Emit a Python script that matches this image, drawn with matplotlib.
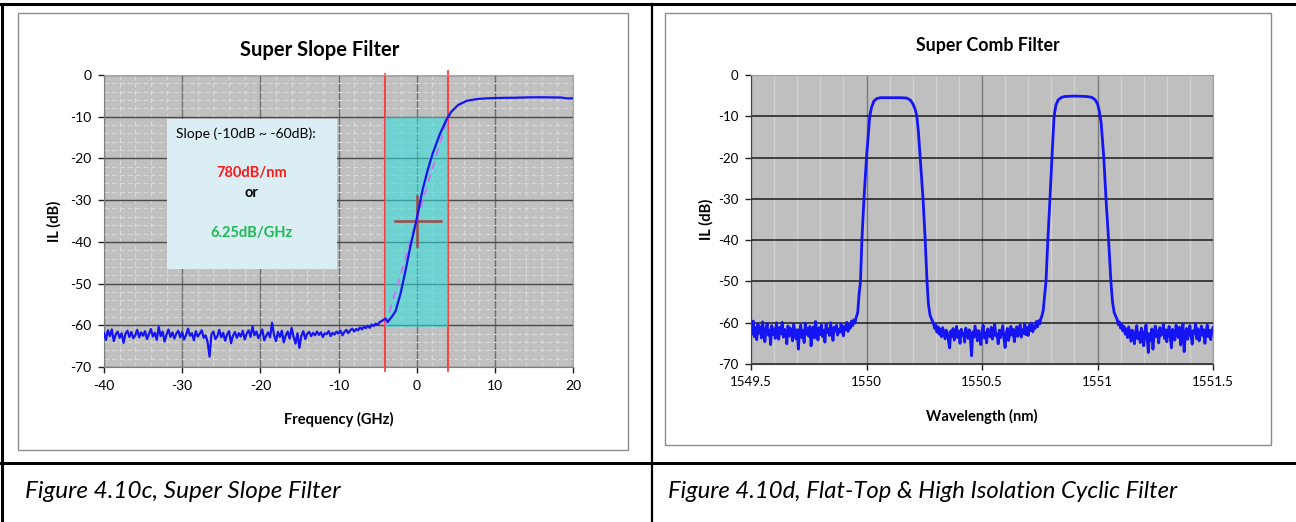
import numpy as np
import matplotlib
matplotlib.use('Agg')
import matplotlib.pyplot as plt
from matplotlib.patches import Rectangle
from matplotlib.ticker import MultipleLocator, FormatStrFormatter

plt.rcParams['font.family'] = ['Lato', 'DejaVu Sans']
plt.rcParams['axes.unicode_minus'] = False

# ---------------- datos: Super Slope Filter ----------------
# piso de ruido, de -40 GHz a -4.5 GHz cada 0.25 GHz
slope_floor = [
    -61.8, -63.5, -61.2, -62.6, -61.0, -63.8, -62.2, -61.5, -63.0, -61.9,
    -64.2, -62.0, -61.3, -62.8, -61.6, -63.1, -62.4, -61.1, -62.9, -61.7,
    -62.5, -61.4, -63.3, -62.1, -60.9, -62.7, -61.8, -63.5, -60.4, -62.6,
    -61.5, -63.9, -62.2, -61.0, -62.8, -61.7, -63.2, -62.0, -61.3, -62.9,
    -61.6, -63.4, -62.3, -60.8, -62.5, -61.9, -63.6, -61.4, -62.7, -62.0,
    -61.2, -63.0, -62.4, -64.0, -67.5, -62.1, -61.5, -63.3, -62.6, -61.1,
    -62.9, -61.8, -63.7, -62.2, -61.4, -64.3, -62.5, -61.6, -63.0, -61.9,
    -62.7, -61.3, -63.4, -62.0, -61.2, -62.8, -60.3, -62.4, -61.5, -63.1,
    -62.2, -61.0, -63.6, -62.5, -61.7, -62.9, -59.4, -62.3, -63.8, -61.6,
    -62.8, -61.3, -64.1, -62.4, -61.5, -63.2, -60.6, -62.7, -64.4, -61.9,
    -65.4, -62.5, -61.4, -63.3, -62.0, -61.6, -62.6, -61.8, -62.4, -61.5,
    -62.3, -61.7, -62.8, -61.9, -62.1, -61.4, -62.6, -61.8, -62.2, -61.5,
    -62.0, -61.3, -62.4, -61.6, -61.1, -61.9, -61.2, -60.8, -61.5, -60.9,
    -61.2, -60.5, -61.0, -60.3, -60.7, -60.1, -60.6, -59.8, -60.2, -59.6,
    -59.9, -59.3, -59.0,
]
# flanco y zona plana
slope_edge_x = [-4.0, -3.7, -3.2, -2.7, -2.05, -1.41, -0.76, -0.02, 0.76, 1.41,
                2.05, 2.92, 3.78, 4.43, 5.3, 6.38, 7.6, 8.8, 10.3, 12.5,
                14.5, 16.5, 18.5, 19.2, 20.0]
slope_edge_y = [-58.4, -59.2, -58.0, -56.6, -52.3, -46.7, -40.7, -34.7, -27.5, -22.8,
                -18.8, -14.4, -10.8, -8.8, -7.2, -6.2, -5.8, -5.6, -5.5, -5.45,
                -5.35, -5.35, -5.4, -5.6, -5.6]
slope_fit_x = [-4, 4]
slope_fit_y = [-60, -10]

# ---------------- datos: Super Comb Filter ----------------
comb_floor_a = [
    -60.5, -62.8, -59.6, -63.4, -61.2, -64.1, -60.3, -62.5, -61.0, -63.7,
    -59.8, -62.2, -64.6, -61.4, -60.2, -63.0, -61.8, -65.3, -60.7, -62.9,
    -61.5, -63.8, -60.0, -62.4, -64.0, -61.1, -62.7, -59.9, -63.5, -61.6,
    -62.3, -65.1, -60.8, -63.2, -61.3, -62.6, -64.4, -60.4, -62.0, -63.9,
    -61.7, -66.4, -62.1, -60.6, -63.6, -61.9, -64.8, -60.1, -62.8, -61.4,
    -63.3, -60.9, -65.6, -62.2, -61.0, -63.7, -59.7, -62.5, -64.2, -61.2,
    -62.9, -60.5, -63.4, -61.8, -64.7, -60.3, -62.4, -61.5, -63.1, -60.0,
    -62.6, -64.3, -61.1, -62.0, -60.6, -63.0, -61.6, -62.3, -60.2, -61.9,
    -63.2, -60.8, -61.7, -59.9, -62.1, -60.4, -61.3, -59.6, -60.7, -59.3,
    -60.1, -58.8,
]
peak1_x = [1549.962, 1549.968, 1549.974, 1549.98, 1549.989, 1550.0, 1550.014, 1550.022,
           1550.032, 1550.045, 1550.06, 1550.1, 1550.15, 1550.175, 1550.19, 1550.2,
           1550.21, 1550.218, 1550.225, 1550.232, 1550.245, 1550.254, 1550.262,
           1550.268, 1550.275, 1550.285]
peak1_y = [-57.5, -53.0, -50.0, -40.0, -30.0, -20.0, -10.0, -7.8,
           -6.3, -5.7, -5.5, -5.5, -5.5, -5.6, -6.1, -6.9,
           -8.2, -10.0, -14.0, -19.8, -30.2, -39.9, -50.0,
           -55.5, -58.2, -59.5]
comb_floor_b = [
    -60.2, -61.4, -60.6, -62.3, -61.0, -62.8, -61.5, -63.4, -61.2, -62.6,
    -63.9, -61.8, -62.4, -64.5, -66.1, -62.0, -63.3, -61.4, -64.2, -62.7,
    -60.9, -63.6, -62.1, -65.0, -61.6, -63.0, -62.5, -64.7, -61.3, -62.9,
    -63.8, -61.7, -64.1, -68.0, -62.2, -63.5, -60.8, -62.6, -64.4, -61.9,
    -63.1, -65.3, -62.0, -60.6, -63.7, -62.4, -64.9, -61.5, -62.8, -63.4,
    -61.1, -64.0, -62.3, -60.4, -63.2, -62.7, -65.1, -61.8, -63.6, -62.1,
    -60.7, -63.9, -66.0, -62.5, -61.4, -64.3, -62.9, -60.9, -63.0, -61.6,
    -64.6, -62.2, -61.0, -63.3, -62.0, -60.5, -63.5, -61.7, -62.6, -60.3,
    -62.9, -61.2, -63.1, -60.6, -61.9, -60.1, -62.2, -60.8, -61.4, -59.7,
    -61.0, -59.5, -60.3, -59.0, -58.2, -57.0,
]
peak2_x = [1550.77, 1550.777, 1550.785, 1550.794, 1550.803, 1550.812, 1550.82, 1550.83,
           1550.845, 1550.86, 1550.9, 1550.95, 1550.975, 1550.99, 1551.0, 1551.007,
           1551.016, 1551.027, 1551.037, 1551.048, 1551.058, 1551.065, 1551.072, 1551.08]
peak2_y = [-54.0, -50.0, -40.0, -30.2, -19.8, -10.0, -7.3, -6.0,
           -5.4, -5.2, -5.1, -5.2, -5.4, -6.0, -7.0, -8.5,
           -11.7, -19.8, -30.2, -40.0, -50.0, -55.0, -57.5, -58.6]
comb_floor_c = [
    -59.2, -60.5, -59.8, -61.3, -60.4, -62.0, -60.9, -62.8, -61.5, -63.6,
    -61.0, -62.7, -64.5, -61.8, -63.2, -65.1, -62.1, -60.7, -63.9, -62.4,
    -64.8, -61.3, -63.0, -65.6, -62.2, -60.5, -63.7, -67.2, -62.6, -64.3,
    -61.5, -66.4, -62.9, -60.8, -63.4, -62.0, -64.9, -61.2, -63.1, -62.5,
    -60.4, -63.8, -61.7, -64.6, -62.3, -60.9, -63.5, -66.1, -61.6, -62.8,
    -64.2, -60.6, -62.4, -63.6, -61.1, -65.4, -62.7, -60.3, -67.0, -63.0,
    -61.4, -64.0, -62.1, -60.7, -63.3, -65.2, -61.9, -62.6, -60.2, -63.9,
    -61.5, -64.4, -62.3, -60.8, -63.1, -61.7, -65.0, -62.2, -60.5, -63.4,
    -61.8, -64.1, -62.0, -61.2,
]

caption_left = 'Figure 4.10c, Super Slope Filter'
caption_right = 'Figure 4.10d, Flat-Top & High Isolation Cyclic Filter'

# ---------------- armar series ----------------
slope_x = np.concatenate([np.linspace(-40, -4.5, len(slope_floor)), slope_edge_x])
slope_y = np.concatenate([slope_floor, slope_edge_y])

comb_x = np.concatenate([np.linspace(1549.5, 1549.955, len(comb_floor_a)), peak1_x,
                         np.linspace(1550.29, 1550.765, len(comb_floor_b)), peak2_x,
                         np.linspace(1551.085, 1551.5, len(comb_floor_c))])
comb_y = np.concatenate([comb_floor_a, peak1_y, comb_floor_b, peak2_y, comb_floor_c])

W, H = 1296, 522
fig = plt.figure(figsize=(W / 100, H / 100), dpi=100)

# fondo con la tabla (coordenadas en pixeles)
bg = fig.add_axes([0, 0, 1, 1], zorder=-1)
bg.set_xlim(0, W)
bg.set_ylim(H, 0)
bg.axis('off')
bg.plot([0, W], [4, 4], color='black', lw=2.2)
bg.plot([2, 2], [4, H], color='black', lw=2.2)
bg.plot([652, 652], [4, H], color='black', lw=1.6)
bg.plot([0, W], [463, 463], color='black', lw=2.2)
bg.add_patch(Rectangle((18, 13), 610, 437, fill=False, edgecolor='#8c8c8c', lw=1))
bg.add_patch(Rectangle((665, 13), 606, 432, fill=False, edgecolor='#8c8c8c', lw=1))
bg.text(25, 492, caption_left, fontsize=17.5, style='italic', va='center', ha='left')
bg.text(668, 492, caption_right, fontsize=17.2, style='italic', va='center', ha='left')

blue = '#1414f5'

# ---------------- Super Slope Filter ----------------
ax1 = fig.add_axes([104 / W, 1 - 367 / H, 469 / W, 292 / H])
ax1.set_facecolor('#c0c0c0')
ax1.set_xlim(-40, 20)
ax1.set_ylim(-70, 0)
ax1.xaxis.set_major_locator(MultipleLocator(10))
ax1.yaxis.set_major_locator(MultipleLocator(10))
ax1.xaxis.set_minor_locator(MultipleLocator(2))
ax1.yaxis.set_minor_locator(MultipleLocator(2))
ax1.set_axisbelow(True)
ax1.xaxis.grid(True, which='major', color='#6e6e6e', lw=1)
ax1.yaxis.grid(True, which='major', color='#4a4a4a', lw=1)
ax1.grid(True, which='minor', color='#dadada', lw=0.8, linestyle=(0, (4, 3)))
ax1.tick_params(which='minor', length=0)
ax1.tick_params(which='major', length=4, width=1, color='#202020', labelsize=10, pad=5)
for s in ['left', 'bottom']:
    ax1.spines[s].set_color('#7f7f7f')
for s in ['top', 'right']:
    ax1.spines[s].set_color('#a8a8a8')

# cuadro de texto
ax1.add_patch(Rectangle((-32, -46.5), 21.8, 36, facecolor='#dbeef3', edgecolor='none', zorder=2))
ax1.text(-30.8, -14.0, 'Slope (-10dB ~ -60dB):', fontsize=10, va='center', ha='left', zorder=3)
ax1.text(-21.1, -23.4, '780dB/nm', fontsize=10.5, fontweight='bold', color='#ff1a1a',
         va='center', ha='center', zorder=3)
ax1.text(-21.1, -28.3, 'or', fontsize=10.5, fontweight='bold', color='black',
         va='center', ha='center', zorder=3)
ax1.text(-21.1, -37.9, '6.25dB/GHz', fontsize=10.5, fontweight='bold', color='#1db954',
         va='center', ha='center', zorder=3)

# lineas rojas y zona cian
ax1.plot([-4, -4], [-71, 0.2], color='#ff2a2a', lw=1.2, clip_on=False, zorder=2)
ax1.plot([4, 4], [-71, 1.0], color='#ff2a2a', lw=1.2, clip_on=False, zorder=2)
ax1.add_patch(Rectangle((-4, -60.4), 8, 50.4, facecolor='#2ee0e0', alpha=0.55,
                        edgecolor='none', zorder=3))
ax1.plot([-2.8, 3.1], [-34.9, -34.9], color='#a04848', lw=1.8, zorder=4)
ax1.plot([0, 0], [-28.9, -40.9], color='#a04848', lw=1.8, zorder=4)
ax1.plot(slope_fit_x, slope_fit_y, color='#c873f0', lw=1.4, linestyle=(0, (4, 3)), zorder=4)
ax1.plot(slope_x, slope_y, color=blue, lw=1.6, zorder=5)

ax1.set_title('Super Slope Filter', fontsize=14.5, fontweight='bold', pad=14, x=0.46)
ax1.set_xlabel('Frequency (GHz)', fontsize=10.5, fontweight='bold', labelpad=15)
ax1.set_ylabel('IL (dB)', fontsize=10.5, fontweight='bold', labelpad=6)

# ---------------- Super Comb Filter ----------------
ax2 = fig.add_axes([751 / W, 1 - 364 / H, 462 / W, 289 / H])
ax2.set_facecolor('#bfbfbf')
ax2.set_xlim(1549.5, 1551.5)
ax2.set_ylim(-70, 0)
ax2.xaxis.set_major_locator(MultipleLocator(0.5))
ax2.xaxis.set_minor_locator(MultipleLocator(0.1))
ax2.yaxis.set_major_locator(MultipleLocator(10))
ax2.xaxis.set_major_formatter(FormatStrFormatter('%g'))
ax2.set_axisbelow(True)
ax2.xaxis.grid(True, which='minor', color='#d2d2d2', lw=1)
ax2.xaxis.grid(True, which='major', color='#7a7a7a', lw=1)
ax2.yaxis.grid(True, which='major', color='#1a1a1a', lw=1.1)
ax2.tick_params(which='minor', length=0)
ax2.tick_params(which='major', length=4, width=1, color='#202020', labelsize=9.5, pad=5)
for s in ['left', 'bottom']:
    ax2.spines[s].set_color('#404040')
for s in ['top', 'right']:
    ax2.spines[s].set_color('#a0a0a0')
ax2.plot(comb_x, comb_y, color=blue, lw=2.0)

ax2.set_title('Super Comb Filter', fontsize=12.8, fontweight='bold', pad=17, x=0.513)
ax2.set_xlabel('Wavelength (nm)', fontsize=10.5, fontweight='bold', labelpad=15)
ax2.set_ylabel('IL (dB)', fontsize=10.5, fontweight='bold', labelpad=3)

fig.savefig('out.png', dpi=100)
